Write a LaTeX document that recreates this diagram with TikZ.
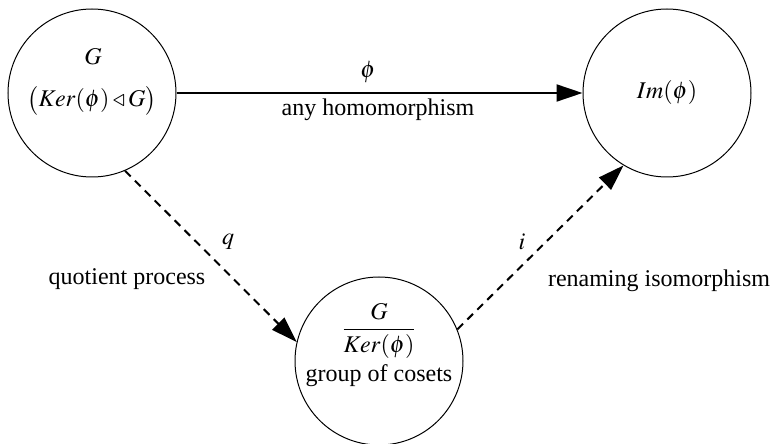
\documentclass[tikz,border=0pt]{standalone}
\usepackage{mathptmx}
\usepackage{fontspec}
\setmainfont{Liberation Serif}
\usetikzlibrary{arrows.meta}
\begin{document}
\begin{tikzpicture}[x=0.5pt,y=-0.5pt,font=\fontsize{12}{14}\selectfont,
    grpnode/.style={draw,circle,line width=0.5pt,minimum size=84pt,inner sep=0pt},
    maparrow/.style={line width=1pt,-{Triangle[length=13pt,width=8.5pt]}},
    dashmap/.style={maparrow,dash pattern=on 4pt off 3pt}]
    \useasboundingbox (0,0) rectangle (772,444);
    % the three groups
    \node[grpnode] (grp) at (92,93) {};
    \node (grpname) at (93,57) {$G$};
    \node (grpker) at (92,101) {$\bigl(Ker(\phi)\triangleleft G\bigr)$};
    \node[grpnode] (img) at (667,93) {$Im(\phi)$};
    \node[grpnode] (quot) at (379,361) {};
    \node (quotfrac) at (379,331) {$\displaystyle\frac{G}{Ker(\phi)}$};
    \node (quotname) at (379,376) {group of cosets};
    % phi -- any homomorphism
    \draw[maparrow] (grp) -- (img);
    \node (philab) at (368,72) {$\phi$};
    \node (phitext) at (378,110) {any homomorphism};
    % q -- quotient process
    \draw[dashmap] (grp.-67) -- (quot.167);
    \node (qlab) at (228,242) {$q$};
    \node (qtext) at (127,279) {quotient process};
    % i -- renaming isomorphism
    \draw[dashmap] (quot.22) -- (img.-121);
    \node (ilab) at (522,242) {$i$};
    \node (itext) at (659,281) {renaming isomorphism};
\end{tikzpicture}
\end{document}
